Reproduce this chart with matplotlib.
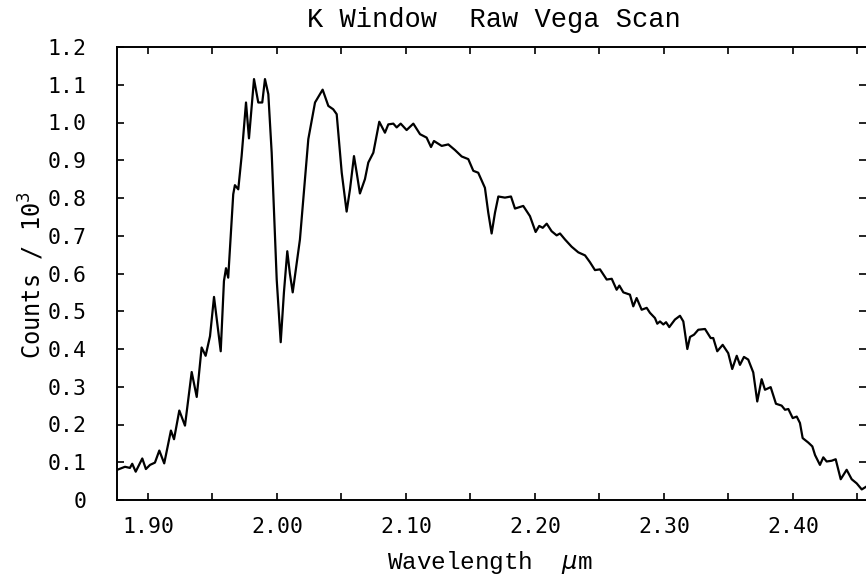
import matplotlib
matplotlib.use("Agg")
import matplotlib.pyplot as plt
from matplotlib.ticker import FixedLocator

wavelength = [1.8762, 1.8822, 1.8860, 1.8878, 1.8905, 1.8956, 1.8984, 1.9016, 1.9054, 1.9088,
              1.9126, 1.9178, 1.9202, 1.9243, 1.9287, 1.9339, 1.9378, 1.9416, 1.9447, 1.9481,
              1.9512, 1.9564, 1.9589, 1.9605, 1.9622, 1.9661, 1.9674, 1.9700, 1.9726, 1.9760,
              1.9783, 1.9822, 1.9855, 1.9886, 1.9907, 1.9933, 1.9959, 1.9998, 2.0029, 2.0054,
              2.0080, 2.0100, 2.0122, 2.0178, 2.0243, 2.0295, 2.0354, 2.0398, 2.0436, 2.0463,
              2.0502, 2.0540, 2.0566, 2.0597, 2.0618, 2.0643, 2.0682, 2.0708, 2.0747, 2.0793,
              2.0837, 2.0863, 2.0902, 2.0928, 2.0959, 2.1005, 2.1057, 2.1109, 2.1160, 2.1194,
              2.1217, 2.1277, 2.1328, 2.1380, 2.1432, 2.1483, 2.1522, 2.1560, 2.1612, 2.1638,
              2.1664, 2.1690, 2.1716, 2.1767, 2.1814, 2.1845, 2.1909, 2.1961, 2.2005, 2.2033,
              2.2060, 2.2091, 2.2129, 2.2168, 2.2194, 2.2233, 2.2284, 2.2336, 2.2388, 2.2426,
              2.2465, 2.2504, 2.2556, 2.2595, 2.2633, 2.2654, 2.2685, 2.2736, 2.2762, 2.2788,
              2.2827, 2.2866, 2.2891, 2.2930, 2.2948, 2.2969, 2.2995, 2.3016, 2.3041, 2.3085,
              2.3124, 2.3150, 2.3181, 2.3202, 2.3233, 2.3266, 2.3318, 2.3362, 2.3382, 2.3413,
              2.3455, 2.3498, 2.3529, 2.3564, 2.3589, 2.3620, 2.3653, 2.3692, 2.3723, 2.3757,
              2.3783, 2.3827, 2.3868, 2.3912, 2.3938, 2.3964, 2.3998, 2.4029, 2.4054, 2.4075,
              2.4119, 2.4150, 2.4171, 2.4209, 2.4235, 2.4261, 2.4300, 2.4331, 2.4370, 2.4416,
              2.4455, 2.4494, 2.4533, 2.4566]

counts = [0.080, 0.088, 0.085, 0.096, 0.075, 0.110, 0.082, 0.093, 0.099, 0.131,
          0.097, 0.184, 0.161, 0.237, 0.197, 0.339, 0.273, 0.404, 0.382, 0.434,
          0.538, 0.394, 0.580, 0.614, 0.589, 0.810, 0.834, 0.823, 0.911, 1.053,
          0.958, 1.115, 1.053, 1.053, 1.115, 1.075, 0.920, 0.584, 0.418, 0.550,
          0.659, 0.600, 0.550, 0.690, 0.956, 1.053, 1.087, 1.044, 1.035, 1.022,
          0.867, 0.764, 0.823, 0.911, 0.867, 0.812, 0.850, 0.894, 0.920, 1.002,
          0.973, 0.995, 0.997, 0.987, 0.997, 0.980, 0.997, 0.969, 0.960, 0.935,
          0.951, 0.938, 0.942, 0.927, 0.910, 0.903, 0.872, 0.867, 0.827, 0.761,
          0.706, 0.761, 0.804, 0.801, 0.804, 0.772, 0.779, 0.752, 0.710, 0.726,
          0.721, 0.732, 0.712, 0.701, 0.706, 0.690, 0.671, 0.656, 0.648, 0.630,
          0.609, 0.611, 0.584, 0.586, 0.557, 0.568, 0.550, 0.544, 0.513, 0.535,
          0.504, 0.509, 0.496, 0.482, 0.467, 0.473, 0.465, 0.471, 0.458, 0.478,
          0.488, 0.473, 0.400, 0.432, 0.438, 0.451, 0.453, 0.429, 0.429, 0.394,
          0.411, 0.389, 0.347, 0.382, 0.358, 0.379, 0.372, 0.338, 0.261, 0.320,
          0.292, 0.299, 0.255, 0.250, 0.239, 0.241, 0.217, 0.221, 0.204, 0.164,
          0.152, 0.142, 0.119, 0.093, 0.113, 0.102, 0.104, 0.108, 0.055, 0.080,
          0.055, 0.044, 0.028, 0.035]

xticks = [1.90, 2.00, 2.10, 2.20, 2.30, 2.40]
xticklabels = ["1.90", "2.00", "2.10", "2.20", "2.30", "2.40"]
xminor = [1.95, 2.05, 2.15, 2.25, 2.35, 2.45]
yticks = [0, 0.1, 0.2, 0.3, 0.4, 0.5, 0.6, 0.7, 0.8, 0.9, 1.0, 1.1, 1.2]
yticklabels = ["0", "0.1", "0.2", "0.3", "0.4", "0.5", "0.6", "0.7", "0.8", "0.9", "1.0", "1.1", "1.2"]

tick_font = "DejaVu Sans Mono"
text_font = "Liberation Mono"

fig = plt.figure(figsize=(8.66, 5.80), dpi=100)
ax = fig.add_axes([117/866, 80/580, 749/866, 453/580])

ax.plot(wavelength, counts, color="black", lw=1.6)

ax.set_xlim(1.876, 2.4566)
ax.set_ylim(0, 1.2)

ax.set_xticks(xticks)
ax.set_xticklabels(xticklabels, fontfamily=tick_font, fontsize=15.5)
ax.xaxis.set_minor_locator(FixedLocator(xminor))
ax.set_yticks(yticks)
ax.set_yticklabels(yticklabels, fontfamily=tick_font, fontsize=15.5)

ax.tick_params(axis="both", which="both", direction="in", length=5, width=1.2,
               top=True, right=True, color="black")
ax.tick_params(axis="x", which="major", pad=12)
ax.tick_params(axis="y", which="major", pad=22)

for s in ["left", "bottom", "top"]:
    ax.spines[s].set_linewidth(1.4)
ax.spines["right"].set_visible(False)

fig.text(494/866, 1 - 20/580, "K Window  Raw Vega Scan", ha="center", va="center",
         fontfamily=text_font, fontsize=19.5)
fig.text(490/866, 1 - 562/580, "Wavelength  $\\mu$m", ha="center", va="center",
         fontfamily=text_font, fontsize=17.5)
fig.text(32/866, 1 - 275/580, "Counts / 10$^3$", ha="center", va="center", rotation=90,
         fontfamily=tick_font, fontsize=17)

fig.savefig("out.png", dpi=100)
